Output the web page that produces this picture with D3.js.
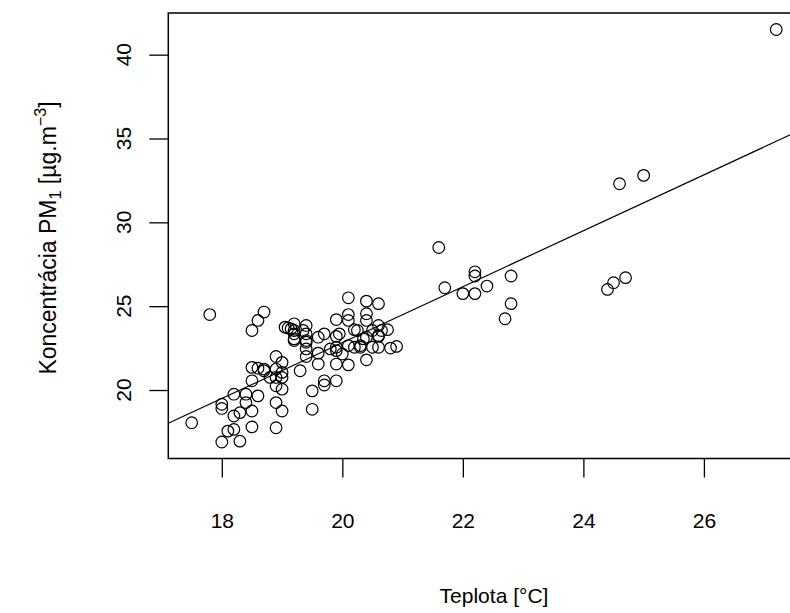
<!DOCTYPE html>
<html>
<head>
<meta charset="utf-8">
<script src="https://cdn.jsdelivr.net/npm/d3@7"></script>
<style>
  body { margin: 0; background: #fff; }
  text { font-family: "Liberation Sans", Arial, sans-serif; fill: #000; }
</style>
</head>
<body>
<div id="chart"></div>
<script>
// temperature (x) and PM1 concentration (y)
var teplota = [27.2, 24.6, 25.0, 22.8, 22.8, 22.7, 24.4, 24.5, 24.7, 21.6, 22.2, 22.2, 21.7, 22.0, 22.2, 22.4,
  17.8, 18.7, 18.6, 18.5,
  20.1, 20.4, 20.6, 20.1, 19.9, 20.1, 20.4, 20.4, 19.2, 19.1, 19.2, 19.4, 19.35, 19.7, 19.6, 19.2, 19.4, 19.9,
  20.2, 20.6, 20.5, 20.75, 20.6, 20.3, 20.1, 20.6, 20.8, 20.9, 20.4, 19.9, 19.6, 19.4, 19.4, 19.8, 19.9, 20.1,
  20.0, 19.6, 19.3, 20.4, 19.9, 19.7, 19.7, 19.5, 19.5,
  18.9, 19.0, 18.9, 19.0, 18.9, 18.8, 18.9, 19.0, 18.9, 19.0, 18.9,
  18.5, 18.6, 18.7, 18.5, 18.4, 18.6, 18.5, 18.5, 18.2, 18.0, 18.0, 18.2, 18.3, 18.1, 18.2, 18.0, 18.3, 17.5, 18.4,
  19.15, 19.2, 19.4, 19.95, 20.25, 20.65, 20.35, 20.6, 20.5, 19.2, 19.4, 19.9, 20.2, 20.3, 19.05, 18.7, 19.0];
var pm1 = [41.5, 32.3, 32.8, 26.8, 25.15, 24.25, 26.0, 26.4, 26.7, 28.5, 27.05, 26.8, 26.1, 25.75, 25.75, 26.2,
  24.5, 24.65, 24.15, 23.55,
  25.5, 25.3, 25.15, 24.5, 24.2, 24.15, 24.55, 24.15, 23.95, 23.7, 23.55, 23.85, 23.55, 23.35, 23.15, 23.05, 22.95, 23.2,
  23.6, 23.85, 23.55, 23.6, 23.2, 22.65, 22.65, 22.55, 22.5, 22.6, 23.15, 22.55, 22.2, 22.45, 22.0, 22.45, 21.55, 21.5,
  22.15, 21.55, 21.15, 21.8, 20.55, 20.55, 20.3, 19.95, 18.85,
  22.0, 21.65, 21.25, 21.05, 20.75, 20.75, 20.25, 20.05, 19.25, 18.75, 17.75,
  21.35, 21.3, 21.15, 20.55, 19.75, 19.65, 18.75, 17.8, 19.75, 19.15, 18.9, 18.45, 18.65, 17.55, 17.65, 16.9, 16.95, 18.05, 19.25,
  23.65, 23.35, 23.35, 23.35, 23.55, 23.55, 23.05, 23.25, 22.55, 22.95, 22.85, 22.35, 22.55, 22.55, 23.75, 21.25, 20.75];

// fitted line (abline of lm)
var intercept = -10.51;
var slope = 1.667;

var xTicks = [18, 20, 22, 24, 26];
var yTicks = [20, 25, 30, 35, 40];

var xTitle = "Teplota [°C]";

var W = 790, H = 613;
var plotLeft = 168.3, plotTop = 13, plotRight = 799.6, plotBottom = 458.5;
var fontSize = 21;
var tickLen = 19;

var svg = d3.select("#chart").append("svg")
  .attr("width", W)
  .attr("height", H);

// R style 4% padding around the data range
function padded(v) {
  var e = d3.extent(v);
  var r = e[1] - e[0];
  return [e[0] - 0.04 * r, e[1] + 0.04 * r];
}

var x = d3.scaleLinear().domain(padded(teplota)).range([plotLeft, plotRight]);
var y = d3.scaleLinear().domain(padded(pm1)).range([plotBottom, plotTop]);

svg.append("defs").append("clipPath")
  .attr("id", "plotClip")
  .append("rect")
  .attr("x", plotLeft)
  .attr("y", plotTop)
  .attr("width", plotRight - plotLeft)
  .attr("height", plotBottom - plotTop);

// points
svg.append("g").selectAll("circle")
  .data(d3.range(teplota.length))
  .enter().append("circle")
  .attr("cx", function(i) { return x(teplota[i]); })
  .attr("cy", function(i) { return y(pm1[i]); })
  .attr("r", 5.8)
  .attr("fill", "none")
  .attr("stroke", "#000")
  .attr("stroke-width", 1.2);

// regression line
var xd = x.domain();
svg.append("line")
  .attr("clip-path", "url(#plotClip)")
  .attr("x1", x(xd[0]))
  .attr("y1", y(intercept + slope * xd[0]))
  .attr("x2", x(xd[1]))
  .attr("y2", y(intercept + slope * xd[1]))
  .attr("stroke", "#000")
  .attr("stroke-width", 1.2);

// box
svg.append("rect")
  .attr("x", plotLeft)
  .attr("y", plotTop)
  .attr("width", plotRight - plotLeft)
  .attr("height", plotBottom - plotTop)
  .attr("fill", "none")
  .attr("stroke", "#000")
  .attr("stroke-width", 1.5);

// x axis
var xAxis = d3.axisBottom(x)
  .tickValues(xTicks)
  .tickSize(tickLen)
  .tickSizeOuter(0)
  .tickPadding(36);

var gx = svg.append("g")
  .attr("transform", "translate(0," + plotBottom + ")")
  .call(xAxis);
gx.select(".domain").remove();
gx.selectAll("line").attr("stroke", "#000").attr("stroke-width", 1.3);
gx.selectAll("text")
  .attr("font-size", fontSize)
  .attr("font-family", "Liberation Sans, Arial, sans-serif");

// y axis, labels rotated like R (las = 0)
var yAxis = d3.axisLeft(y)
  .tickValues(yTicks)
  .tickSize(tickLen)
  .tickSizeOuter(0)
  .tickFormat("");

var gy = svg.append("g")
  .attr("transform", "translate(" + plotLeft + ",0)")
  .call(yAxis);
gy.select(".domain").remove();
gy.selectAll("line").attr("stroke", "#000").attr("stroke-width", 1.3);

svg.append("g").selectAll("text")
  .data(yTicks)
  .enter().append("text")
  .attr("transform", function(d) { return "translate(131," + y(d) + ") rotate(-90)"; })
  .attr("text-anchor", "middle")
  .attr("font-size", fontSize)
  .text(function(d) { return d; });

// axis titles
svg.append("text")
  .attr("x", 494)
  .attr("y", 603)
  .attr("text-anchor", "middle")
  .attr("font-size", fontSize)
  .text(xTitle);

var tSize = 23;
var yTitle = svg.append("text")
  .attr("transform", "translate(56," + 238 + ") rotate(-90)")
  .attr("text-anchor", "middle")
  .attr("font-size", tSize);
yTitle.append("tspan").text("Koncentrácia PM");
yTitle.append("tspan").attr("font-size", tSize * 0.7).attr("dy", 5).text("1");
yTitle.append("tspan").attr("dy", -5).text(" [µg.m");
yTitle.append("tspan").attr("font-size", tSize * 0.7).attr("dy", -10).text("−3");
yTitle.append("tspan").attr("dy", 10).text("]");
</script>
</body>
</html>
